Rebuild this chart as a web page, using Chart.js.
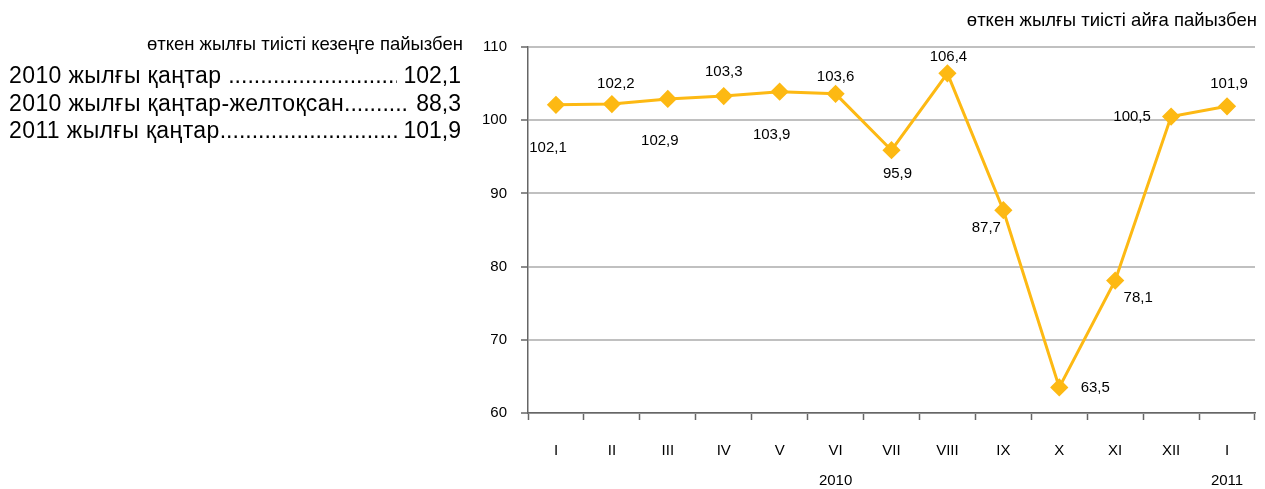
<!DOCTYPE html>
<html>
<head>
<meta charset="utf-8">
<script src="https://cdn.jsdelivr.net/npm/chart.js@4"></script>
<style>
  html, body { margin: 0; padding: 0; background: #fff; }
  body { width: 1265px; height: 489px; position: relative; overflow: hidden; font-family: "Liberation Sans", Arial, sans-serif; color: #000; }
  #chart { position: absolute; left: 0; top: 0; }
  .note { position: absolute; font-size: 18.5px; white-space: nowrap; }
  #summary { position: absolute; left: 9px; top: 62px; width: 452px; font-size: 23px; line-height: 27.5px; }
  .row { display: flex; white-space: nowrap; }
  .row .name { letter-spacing: 0.4px; }
  .row .dots { flex: 1; overflow: hidden; text-overflow: clip; }
</style>
</head>
<body>
<canvas id="chart" width="1265" height="489"></canvas>
<div class="note" style="right: 802px; top: 33px;">өткен жылғы тиісті кезеңге пайызбен</div>
<div class="note" style="right: 8px; top: 9px;">өткен жылғы тиісті айға пайызбен</div>
<div id="summary"></div>
<script>
// summary lines at the left
var summaryNames = ["2010 жылғы қаңтар ", "2010 жылғы қаңтар-желтоқсан", "2011 жылғы қаңтар"];
var summaryValues = ["102,1", "88,3", "101,9"];

// monthly series
var months = [["I"], ["II"], ["III"], ["IV"], ["V"], ["VI", "2010"], ["VII"], ["VIII"], ["IX"], ["X"], ["XI"], ["XII"], ["I", "2011"]];
var values = [102.1, 102.2, 102.9, 103.3, 103.9, 103.6, 95.9, 106.4, 87.7, 63.5, 78.1, 100.5, 101.9];
var yTicks = [60, 70, 80, 90, 100, 110];

// where each value label sits relative to its point (dx, dy)
var labelOffsets = [[-8, 43], [4, -20], [-8, 42], [0, -24], [-8, 43], [0, -17], [6, 24], [1, -16],
  [-17, 18], [36, 0], [23, 17], [-39, 0], [2, -22]];

var box = document.getElementById("summary");
summaryNames.forEach(function (n, i) {
  var row = document.createElement("div");
  row.className = "row";
  row.innerHTML = "<span class='name'>" + n.replace(/ $/, "&nbsp;") + "</span><span class='dots'>" + ".".repeat(80) +
    "</span><span>&nbsp;" + summaryValues[i] + "</span>";
  box.appendChild(row);
});

var valueLabels = {
  id: "valueLabels",
  afterDatasetsDraw: function (chart) {
    var ctx = chart.ctx;
    var meta = chart.getDatasetMeta(0);
    ctx.save();
    ctx.font = "15px 'Liberation Sans', Arial, sans-serif";
    ctx.fillStyle = "#000";
    ctx.textAlign = "center";
    ctx.textBaseline = "middle";
    meta.data.forEach(function (pt, i) {
      var txt = values[i].toFixed(1).replace(".", ",");
      ctx.fillText(txt, pt.x + labelOffsets[i][0], pt.y + labelOffsets[i][1]);
    });
    ctx.restore();
  }
};

new Chart("chart", {
  type: "line",
  data: {
    labels: months,
    datasets: [{
      data: values,
      borderColor: "#FDB913",
      backgroundColor: "#FDB913",
      borderWidth: 3,
      pointStyle: "rectRot",
      pointRadius: 7,
      pointHoverRadius: 7,
      tension: 0
    }]
  },
  options: {
    responsive: false,
    animation: false,
    devicePixelRatio: 1,
    layout: { padding: { left: 470, top: 47, right: 9, bottom: 0 } },
    plugins: { legend: { display: false }, tooltip: { enabled: false } },
    scales: {
      x: {
        offset: true,
        grid: { offset: true, drawOnChartArea: false, tickLength: 7, tickColor: "#666", tickWidth: 1.5 },
        border: { color: "#666", width: 1.5 },
        ticks: {
          color: "#000",
          font: { family: "'Liberation Sans', Arial, sans-serif", size: 15, lineHeight: 2 },
          padding: 16,
          maxRotation: 0,
          autoSkip: false
        },
        afterFit: function (s) { s.height = 76; }
      },
      y: {
        min: 60,
        max: 110,
        afterBuildTicks: function (s) { s.ticks = yTicks.map(function (v) { return { value: v }; }); },
        grid: { color: "#c0c0c0", lineWidth: 2, tickLength: 7, tickColor: "#666", tickWidth: 1.5 },
        border: { color: "#666", width: 1.5 },
        ticks: {
          color: "#000",
          font: { family: "'Liberation Sans', Arial, sans-serif", size: 15 },
          padding: 14
        },
        afterFit: function (s) { s.width = 58; }
      }
    }
  },
  plugins: [valueLabels]
});
</script>
</body>
</html>
